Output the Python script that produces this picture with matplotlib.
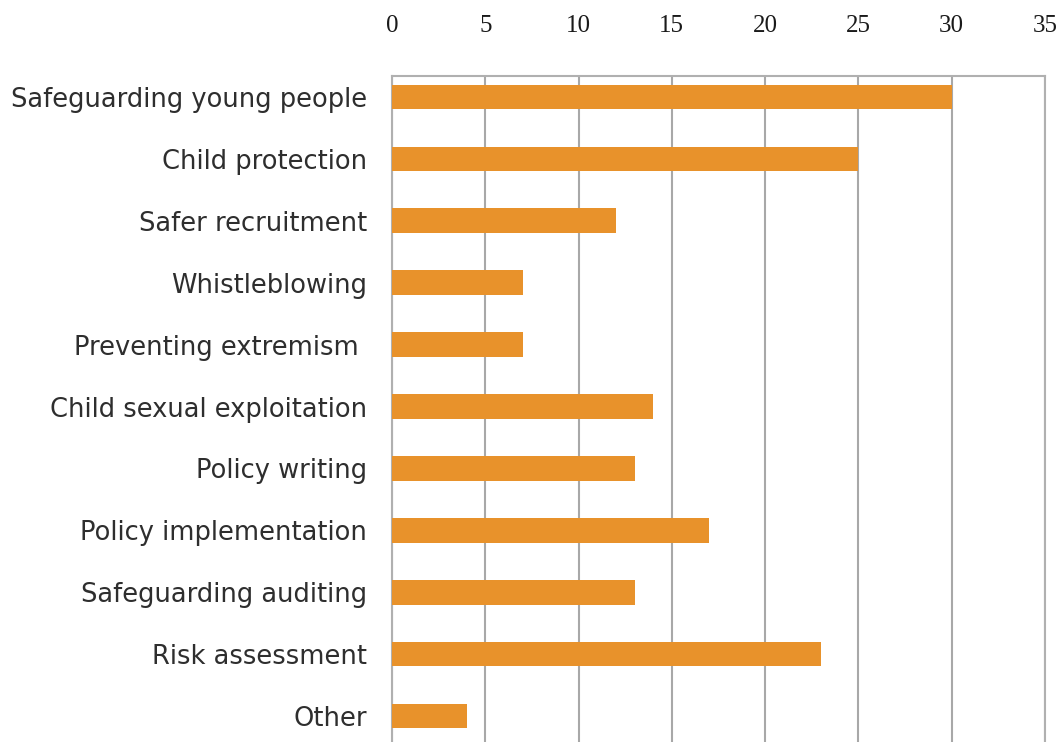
import matplotlib
matplotlib.use("Agg")
import matplotlib.pyplot as plt

# data
categories = [
    "Safeguarding young people", "Child protection", "Safer recruitment",
    "Whistleblowing", "Preventing extremism ", "Child sexual exploitation",
    "Policy writing", "Policy implementation", "Safeguarding auditing",
    "Risk assessment", "Other",
]
counts = [30, 25, 12, 7, 7, 14, 13, 17, 13, 23, 4]
xticks = [0, 5, 10, 15, 20, 25, 30, 35]

W, H = 1063, 742
fig = plt.figure(figsize=(W / 100, H / 100), dpi=100)
ax = fig.add_axes([392 / W, 0, (1045 - 392) / W, (H - 76) / H])

ypos = list(range(len(categories)))
ax.barh(ypos, counts, height=0.4, color="#E8922B", zorder=3)

ax.set_xlim(0, 35)
ax.set_ylim(10.42, -0.34)
ax.set_xticks(xticks)
ax.set_yticks(ypos)
ax.set_yticklabels(categories, fontsize=18.5, family="DejaVu Sans", color="#2e2e2e")
ax.xaxis.tick_top()
ax.set_xticklabels([str(t) for t in xticks], fontsize=18, family="Liberation Serif", color="#1a1a1a")
ax.tick_params(axis="x", length=0, pad=28)
ax.tick_params(axis="y", length=0, pad=18)

ax.grid(axis="x", color="#A8A8A8", linewidth=1.5, zorder=0)
for side in ["top", "right", "left"]:
    ax.spines[side].set_color("#B0B0B0")
    ax.spines[side].set_linewidth(1.5)
ax.spines["bottom"].set_visible(False)

fig.savefig("out.png", dpi=100)
